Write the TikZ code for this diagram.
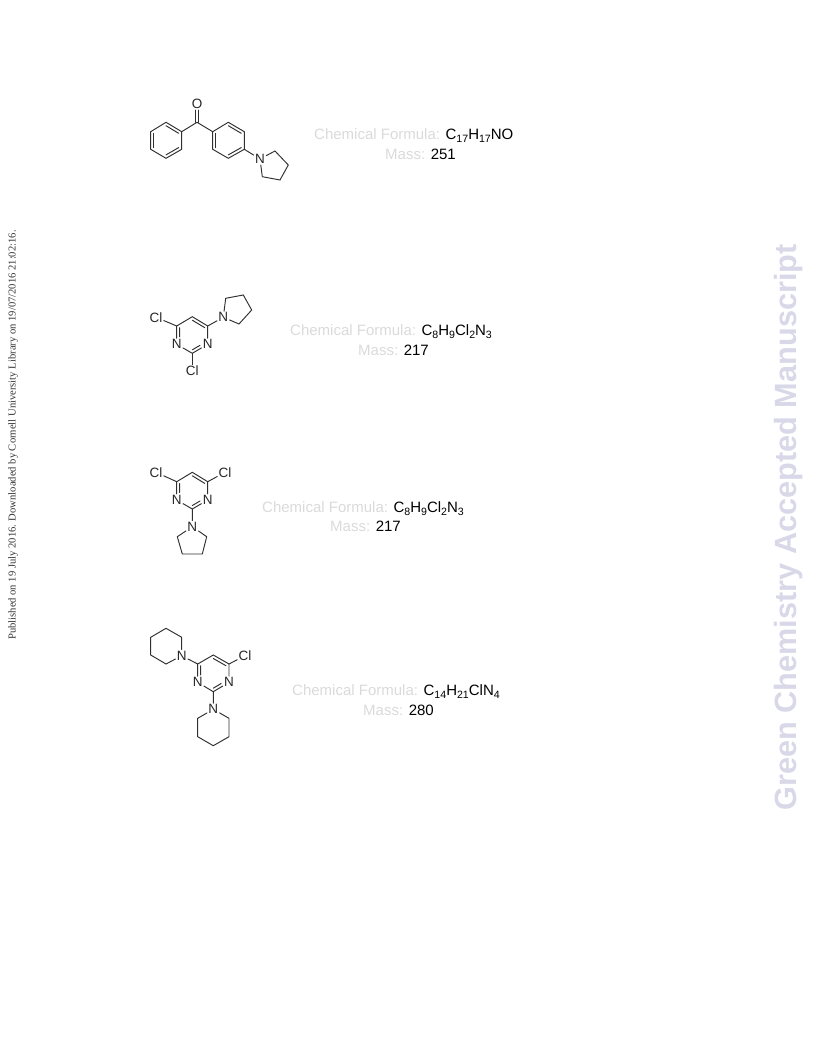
\documentclass[tikz,border=0pt]{standalone}
\usepackage{fontspec}
\setmainfont{Liberation Sans}
\newfontfamily\serifside{Liberation Serif}
\usetikzlibrary{calc}
\definecolor{bondc}{HTML}{303030}
\definecolor{faint}{HTML}{DADADA}
\definecolor{wm}{HTML}{D8D8E8}
\tikzset{
  bond/.style={draw=bondc,line width=0.95pt,line cap=round},
  atom/.style={inner sep=1.2pt,font=\fontsize{13.5}{13.5}\selectfont,text=black!85},
  formula/.style={anchor=base west,inner sep=0pt,font=\fontsize{15}{15}\selectfont,text=faint},
  sidetext/.style={rotate=90,inner sep=0pt,text=black!80,font=\serifside\fontsize{10.6}{11}\selectfont},
  watermark/.style={rotate=90,inner sep=0pt,text=wm,font=\bfseries\fontsize{30.7}{31}\selectfont}
}
% inner line of a double bond: ends pulled toward the ring centre
\newcommand{\inbond}[3]{\draw[bond] ($(#1)!.19!(#3)$) -- ($(#2)!.19!(#3)$);}
% same, with the end at an atom label (#1) cut back along the bond
\newcommand{\inbondA}[3]{\draw[bond] ($($(#1)!.19!(#3)$)!.38!($(#2)!.19!(#3)$)$) -- ($(#2)!.19!(#3)$);}
\newcommand{\fsub}[1]{\raisebox{-3.2pt}{\fontsize{10.6}{10.6}\selectfont #1}}
\newcommand{\blk}[1]{\textcolor{black}{#1}}
\begin{document}
\begin{tikzpicture}[x=1pt,y=-1pt]
\useasboundingbox (0,0) rectangle (816,1056);

% ---------- compound 1
\foreach \n/\x/\y in {a1/166/122.3,a2/181.7/131.7,a3/181.7/149.3,a4/166/158.3,a5/150.7/149.3,a6/150.7/131.7,ac/166/140.3,
  co/197/122.3,
  b1/212.7/131.7,b2/228.3/122.3,b3/244.3/131.7,b4/244.3/149.3,b5/228.3/158.3,b6/212.7/149.3,bc/228.5/140.3,
  p1/275/151,p2/288.3/165,p3/280/180,p4/262.3/176.7}
  \coordinate (\n) at (\x,\y);
\node[atom] (oxy) at (197,104) {O};
\node[atom] (n1) at (260,159) {N};
\draw[bond] (a1)--(a2)--(a3)--(a4)--(a5)--(a6)--cycle;
\inbond{a1}{a2}{ac}\inbond{a3}{a4}{ac}\inbond{a5}{a6}{ac}
\draw[bond] (a2)--(co)--(b1);
\draw[bond] ([xshift=-1.5pt]co) -- ([xshift=-1.5pt]oxy.south);
\draw[bond] ([xshift=1.5pt]co) -- ([xshift=1.5pt]oxy.south);
\draw[bond] (b1)--(b2)--(b3)--(b4)--(b5)--(b6)--cycle;
\inbond{b2}{b3}{bc}\inbond{b4}{b5}{bc}\inbond{b6}{b1}{bc}
\draw[bond] (b4)--(n1)--(p1)--(p2)--(p3)--(p4)--(n1);
\node[formula] (f1) at (314,139.6) {Chemical Formula: \blk{C\fsub{17}H\fsub{17}NO}};
\node[formula] (m1) at (385,159.6) {Mass: \blk{251}};

% ---------- compound 2
\foreach \n/\x/\y in {c4/176.7/326,c5/192.3/316.7,c6/207.7/326,c2/192.3/353.3,cc/192.3/335,
  q1/225.7/298.3,q2/243.3/295,q3/251.7/310,q4/239/324}
  \coordinate (\n) at (\x,\y);
\node[atom] (cla) at (156,317.3) {Cl};
\node[atom] (clb) at (192.3,371) {Cl};
\node[atom] (n21) at (207.7,344.3) {N};
\node[atom] (n23) at (176.7,344.3) {N};
\node[atom] (n2p) at (223.3,317.3) {N};
\draw[bond] (c4)--(c5)--(c6)--(n21)--(c2)--(n23)--(c4);
\inbond{c5}{c6}{cc}
\inbondA{n21}{c2}{cc}
\inbondA{n23}{c4}{cc}
\draw[bond] (cla)--(c4);
\draw[bond] (c2)--(clb);
\draw[bond] (c6)--(n2p)--(q1)--(q2)--(q3)--(q4)--(n2p);
\node[formula] (f2) at (290,335.3) {Chemical Formula: \blk{C\fsub{8}H\fsub{9}Cl\fsub{2}N\fsub{3}}};
\node[formula] (m2) at (358,355.3) {Mass: \blk{217}};

% ---------- compound 3
\foreach \n/\x/\y in {d4/176.7/481.7,d5/192.3/472.3,d6/207.7/481.7,d2/192.3/509,dc/192.3/490.7,
  r1/206.7/536.7,r2/202.3/554,r3/182.3/554,r4/177.3/536.7}
  \coordinate (\n) at (\x,\y);
\node[atom] (clc) at (156,472.3) {Cl};
\node[atom] (cld) at (225,472.3) {Cl};
\node[atom] (n31) at (207.7,500) {N};
\node[atom] (n33) at (176.7,500) {N};
\node[atom] (n3p) at (192.3,526.7) {N};
\draw[bond] (d4)--(d5)--(d6)--(n31)--(d2)--(n33)--(d4);
\inbond{d5}{d6}{dc}
\inbondA{n31}{d2}{dc}
\inbondA{n33}{d4}{dc}
\draw[bond] (clc)--(d4);
\draw[bond] (d6)--(cld);
\draw[bond] (d2)--(n3p)--(r1)--(r2)--(r3)--(r4)--(n3p);
\node[formula] (f3) at (262,512) {Chemical Formula: \blk{C\fsub{8}H\fsub{9}Cl\fsub{2}N\fsub{3}}};
\node[formula] (m3) at (330,531.3) {Mass: \blk{217}};

% ---------- compound 4
\foreach \n/\x/\y in {s1/181.7/637.3,s2/166/628.3,s3/150.7/637.3,s4/150.7/655,s5/166/664,
  e4/197.7/664,e5/213.3/655,e6/229/664,e2/213.3/691.7,ec/213.3/673.3,
  t1/229/718.3,t2/229/736.7,t3/213.3/745.7,t4/197.7/736.7,t5/197.7/718.3}
  \coordinate (\n) at (\x,\y);
\node[atom] (cle) at (245,655.7) {Cl};
\node[atom] (n41) at (229,682.3) {N};
\node[atom] (n43) at (197.7,682.3) {N};
\node[atom] (n4a) at (181.7,655.7) {N};
\node[atom] (n4b) at (213.3,709.3) {N};
\draw[bond] (n4a)--(s1)--(s2)--(s3)--(s4)--(s5)--(n4a);
\draw[bond] (n4a)--(e4);
\draw[bond] (e4)--(e5)--(e6)--(n41)--(e2)--(n43)--(e4);
\inbond{e5}{e6}{ec}
\inbondA{n41}{e2}{ec}
\inbondA{n43}{e4}{ec}
\draw[bond] (e6)--(cle);
\draw[bond] (e2)--(n4b)--(t1)--(t2)--(t3)--(t4)--(t5)--(n4b);
\node[formula] (f4) at (292,695) {Chemical Formula: \blk{C\fsub{14}H\fsub{21}ClN\fsub{4}}};
\node[formula] (m4) at (363,715) {Mass: \blk{280}};

% ---------- margins
\node[sidetext] (pub) at (13,435) {Published on 19 July 2016. Downloaded by Cornell University Library on 19/07/2016 21:02:16.};
\node[watermark] (gc) at (789,527.5) {Green Chemistry Accepted Manuscript};
\end{tikzpicture}
\end{document}
